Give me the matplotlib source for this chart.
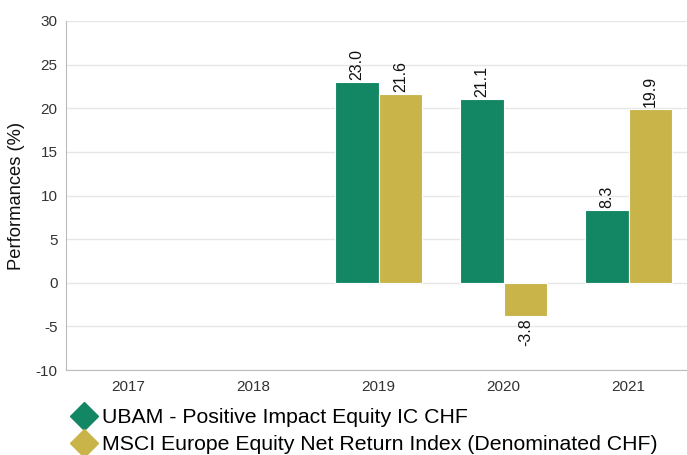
import numpy as np
import matplotlib.pyplot as plt
from matplotlib.lines import Line2D

plt.rcParams['font.family'] = ['Liberation Sans', 'DejaVu Sans']
plt.rcParams['axes.unicode_minus'] = False

# Datos
anios = ["2017", "2018", "2019", "2020", "2021"]
ubam = [np.nan, np.nan, 23.0, 21.1, 8.3]
msci = [np.nan, np.nan, 21.6, -3.8, 19.9]
nombres = ["UBAM - Positive Impact Equity IC CHF",
           "MSCI Europe Equity Net Return Index (Denominated CHF)"]

verde = "#138663"
oro = "#c8b449"

fig = plt.figure(figsize=(6.87, 4.55), dpi=100)
# el eje se sale un poco por la derecha, como en el original
ax = fig.add_axes([66 / 687, 1 - 370 / 455, 625 / 687, 349 / 455])

x = np.arange(len(anios))
ancho = 0.35
b1 = ax.bar(x - ancho / 2, ubam, ancho, color=verde, edgecolor="white", linewidth=0.8, zorder=3)
b2 = ax.bar(x + ancho / 2, msci, ancho, color=oro, edgecolor="white", linewidth=0.8, zorder=3)

for barras, vals in [(b1, ubam), (b2, msci)]:
    for b, v in zip(barras, vals):
        if np.isnan(v):
            continue
        cx = b.get_x() + b.get_width() / 2
        if v >= 0:
            ax.annotate(f"{v:.1f}", (cx, v), xytext=(0, 1.5), textcoords="offset points",
                        rotation=90, ha="center", va="bottom", fontsize=11.5, color="#111111")
        else:
            ax.annotate(f"{v:.1f}", (cx, v), xytext=(0, -1.5), textcoords="offset points",
                        rotation=90, ha="center", va="top", fontsize=11.5, color="#111111")

ax.set_xlim(-0.5, len(anios) - 0.5)
ax.set_ylim(-10, 30)
ax.set_yticks(range(-10, 31, 5))
ax.set_xticks(x)
ax.set_xticklabels(anios)
ax.tick_params(axis="both", length=0, labelsize=11, labelcolor="#333333")
ax.tick_params(axis="x", pad=7)
ax.tick_params(axis="y", pad=6)
ax.grid(axis="y", color="#e6e6e6", linewidth=1, zorder=0)
for lado in ["top", "right"]:
    ax.spines[lado].set_visible(False)
for lado in ["left", "bottom"]:
    ax.spines[lado].set_color("#bbbbbb")
ax.set_ylabel("Performances (%)", fontsize=13.2, color="#111111", labelpad=8)

# leyenda debajo del grafico
manejadores = [Line2D([0], [0], marker="D", linestyle="", markersize=14, color=verde),
               Line2D([0], [0], marker="D", linestyle="", markersize=14, color=oro)]
fig.legend(manejadores, nombres, loc="lower left", bbox_to_anchor=(60 / 687, -8 / 455),
           frameon=False, fontsize=15.3, handletextpad=0.1, labelspacing=0.4,
           handlelength=1.5, borderaxespad=0)

plt.savefig("out.png", dpi=100)
